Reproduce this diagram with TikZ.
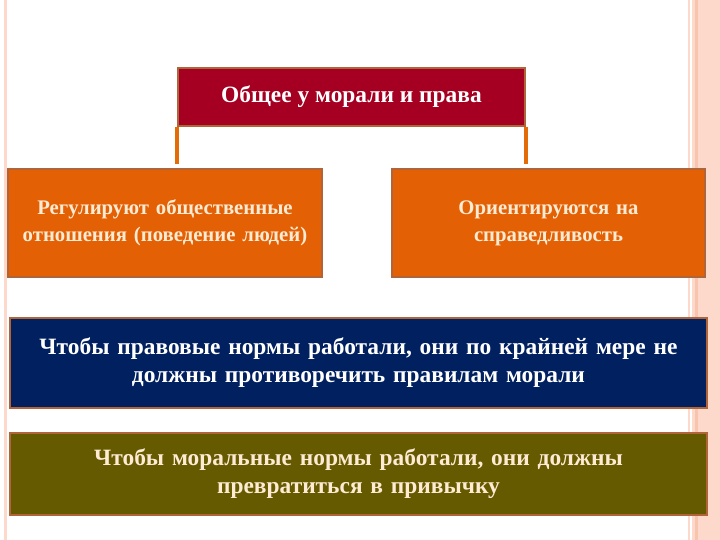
\documentclass[tikz,border=0pt]{standalone}
\usepackage{fontspec}
\setmainfont{Liberation Serif}
\usetikzlibrary{positioning}
\definecolor{darkred}{HTML}{A50021}
\definecolor{deeporange}{HTML}{E36005}
\definecolor{linkorange}{HTML}{E36C09}
\definecolor{navy}{HTML}{002060}
\definecolor{olive}{HTML}{665A00}
\definecolor{cream}{HTML}{FDEBD3}
\definecolor{edgebrown}{HTML}{B0643A}
\definecolor{stripe}{HTML}{F8C4AE}
\definecolor{stripepale}{HTML}{FCD9CB}
\newcommand{\bigfont}{\fontsize{23.5}{28}\selectfont\bfseries}
\newcommand{\midfont}{\fontsize{20.8}{27}\selectfont\bfseries}

\begin{document}
\begin{tikzpicture}[x=1bp,y=-1bp,
  blok/.style={draw=edgebrown, line width=1.2bp, align=center, inner sep=0pt, font=\bigfont},
  link/.style={draw=linkorange, line width=4bp}]
      % page and side stripes
      \fill[white] (0,0) rectangle (720,540);
      \useasboundingbox (0,0) rectangle (720,540);
      \fill[stripepale] (4,0) rectangle (7,540);
      \fill[stripepale] (688,0) rectangle (690,540);
      \fill[stripepale] (691.5,0) rectangle (720,540);
      \fill[stripe] (694.5,0) rectangle (697.5,540);

      \node (common) at (351.5,97) [blok, fill=darkred, text=white, minimum width=347bp, minimum height=58bp] {Общее у морали и права};
      \node (regul) at (165,223) [blok, font=\midfont, fill=deeporange, text=cream, minimum width=314bp, minimum height=108bp, text width=305bp] {Регулируют общественные\\отношения (поведение людей)};
      \node (orient) at (548.5,223) [blok, font=\midfont, fill=deeporange, text=cream, minimum width=313bp, minimum height=108bp, text width=305bp] {Ориентируются на\\справедливость};
      \node (legal) at (358.5,363) [blok, fill=navy, text=white, minimum width=697bp, minimum height=90bp, text width=690bp] {Чтобы правовые нормы работали, они по крайней мере не\\должны противоречить правилам морали};
      \node (moral) at (358.5,474) [blok, fill=olive, text=cream, minimum width=697bp, minimum height=82bp, text width=690bp] {Чтобы моральные нормы работали, они должны\\превратиться в привычку};

      \draw[link, shorten >=4bp] (common.south west) -- (common.south west |- regul.north);
      \draw[link, shorten >=4bp] (common.south east) -- (common.south east |- orient.north);
\end{tikzpicture}
\end{document}
